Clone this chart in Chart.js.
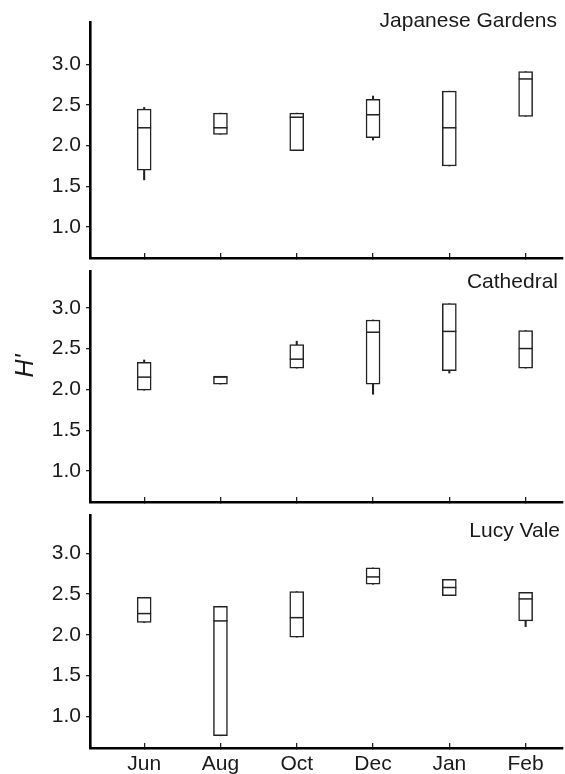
<!DOCTYPE html>
<html>
<head>
<meta charset="utf-8">
<script src="https://cdn.jsdelivr.net/npm/chart.js@4.4.0/dist/chart.umd.min.js"></script>
<style>
body { margin: 0; background: #fff; }
#wrap { position: relative; width: 565px; height: 774px; overflow: hidden; }
canvas { position: absolute; left: 0; }
</style>
</head>
<body>
<div id="wrap">
  <canvas id="p1" width="565" height="262" style="top:0px"></canvas>
  <canvas id="p2" width="565" height="244" style="top:262px"></canvas>
  <canvas id="p3" width="565" height="268" style="top:506px"></canvas>
</div>
<script>
const months = ['Jun', 'Aug', 'Oct', 'Dec', 'Jan', 'Feb'];
const yTicks = [1.0, 1.5, 2.0, 2.5, 3.0];

// Japanese Gardens
const jgMin = [1.58, 2.14, 1.94, 2.07, 1.75, 2.36];
const jgQ1  = [1.70, 2.14, 1.94, 2.10, 1.75, 2.36];
const jgMed = [2.22, 2.22, 2.35, 2.38, 2.22, 2.82];
const jgQ3  = [2.45, 2.40, 2.40, 2.57, 2.67, 2.91];
const jgMax = [2.47, 2.40, 2.40, 2.61, 2.67, 2.91];

// Cathedral
const caMin = [1.99, 2.065, 2.26, 1.94, 2.20, 2.26];
const caQ1  = [1.99, 2.065, 2.26, 2.065, 2.23, 2.26];
const caMed = [2.15, 2.155, 2.37, 2.70, 2.71, 2.50];
const caQ3  = [2.33, 2.155, 2.55, 2.85, 3.05, 2.72];
const caMax = [2.36, 2.155, 2.59, 2.85, 3.05, 2.72];

// Lucy Vale
const lvMin = [2.15, 0.76, 1.97, 2.62, 2.48, 2.10];
const lvQ1  = [2.15, 0.76, 1.97, 2.62, 2.48, 2.17];
const lvMed = [2.26, 2.17, 2.21, 2.71, 2.58, 2.44];
const lvQ3  = [2.46, 2.35, 2.53, 2.82, 2.68, 2.52];
const lvMax = [2.46, 2.35, 2.53, 2.82, 2.68, 2.52];

const fontFamily = '"Liberation Sans", Arial, Helvetica, sans-serif';
const ink = '#1a1a1a';

// site name (top right) and the H' axis label
const panelText = {
  id: 'panelText',
  afterDraw(chart, args, opts) {
    const ctx = chart.ctx;
    const area = chart.chartArea;
    ctx.save();
    ctx.fillStyle = ink;
    ctx.font = '21px ' + fontFamily;
    ctx.textAlign = 'right';
    ctx.textBaseline = 'alphabetic';
    ctx.fillText(opts.text, area.right - opts.dx, opts.y);
    if (opts.axisLabel) {
      ctx.translate(opts.axisX, opts.axisY);
      ctx.rotate(-Math.PI / 2);
      ctx.font = 'italic 25px ' + fontFamily;
      ctx.textAlign = 'center';
      ctx.textBaseline = 'middle';
      ctx.fillText(opts.axisLabel, 0, 0);
    }
    ctx.restore();
  }
};

function makePanel(id, o) {
  const datasets = [
    {
      label: 'range',
      data: months.map((m, i) => ({ x: i, y: [o.min[i], o.max[i]] })),
      backgroundColor: '#222',
      borderWidth: 0,
      barThickness: 1.4,
      grouped: false,
      order: 2
    },
    {
      label: 'box',
      data: months.map((m, i) => ({ x: i, y: [o.q1[i], o.q3[i]] })),
      backgroundColor: '#fff',
      borderColor: '#222',
      borderWidth: 1.5,
      borderSkipped: false,
      barThickness: 14,
      grouped: false,
      order: 1
    },
    {
      type: 'scatter',
      label: 'median',
      data: months.map((m, i) => ({ x: i, y: o.med[i] })),
      pointStyle: 'line',
      pointRadius: 7,
      pointBorderWidth: 1.5,
      pointBorderColor: '#222',
      borderColor: '#222',
      order: 0
    }
  ];

  return new Chart(document.getElementById(id), {
    type: 'bar',
    data: { datasets: datasets },
    options: {
      responsive: false,
      animation: false,
      events: [],
      layout: { autoPadding: false, padding: { top: o.top, right: 2, left: 0, bottom: 0 } },
      plugins: {
        legend: { display: false },
        tooltip: { enabled: false },
        panelText: o.text
      },
      scales: {
        x: {
          type: 'linear',
          min: -0.71,
          max: 5.49,
          offset: false,
          afterBuildTicks: s => { s.ticks = months.map((m, i) => ({ value: i })); },
          afterFit: s => { s.height = o.xh; s.paddingLeft = 0; s.paddingRight = 0; },
          grid: { offset: false, drawOnChartArea: false, tickLength: -5, color: '#222', lineWidth: 1.3 },
          border: { color: '#000', width: 2.6 },
          ticks: {
            padding: 9,
            autoSkip: false,
            maxRotation: 0,
            color: ink,
            font: { family: fontFamily, size: 21 },
            callback: (v) => o.labels ? months[v] : ''
          }
        },
        y: {
          min: o.ymin,
          max: o.ymax,
          afterBuildTicks: s => { s.ticks = yTicks.map(v => ({ value: v })); },
          afterFit: s => { s.width = 90; s.paddingTop = 0; s.paddingBottom = 0; },
          grid: { drawOnChartArea: false, tickLength: 4, color: '#222', lineWidth: 1.3 },
          border: { color: '#000', width: 2.6 },
          ticks: {
            padding: 5,
            color: ink,
            font: { family: fontFamily, size: 21 },
            callback: v => v.toFixed(1)
          }
        }
      }
    },
    plugins: [panelText]
  });
}

makePanel('p1', {
  min: jgMin, q1: jgQ1, med: jgMed, q3: jgQ3, max: jgMax,
  ymin: 0.62, ymax: 3.52, top: 22, xh: 4, labels: false,
  text: { text: 'Japanese Gardens', dx: 6, y: 27 }
});
makePanel('p2', {
  min: caMin, q1: caQ1, med: caMed, q3: caQ3, max: caMax,
  ymin: 0.62, ymax: 3.45, top: 9, xh: 4, labels: false,
  text: { text: 'Cathedral', dx: 5, y: 26, axisLabel: "H'", axisX: 26, axisY: 104 }
});
makePanel('p3', {
  min: lvMin, q1: lvQ1, med: lvMed, q3: lvQ3, max: lvMax,
  ymin: 0.61, ymax: 3.47, top: 9, xh: 26, labels: true,
  text: { text: 'Lucy Vale', dx: 3, y: 31 }
});
</script>
</body>
</html>
